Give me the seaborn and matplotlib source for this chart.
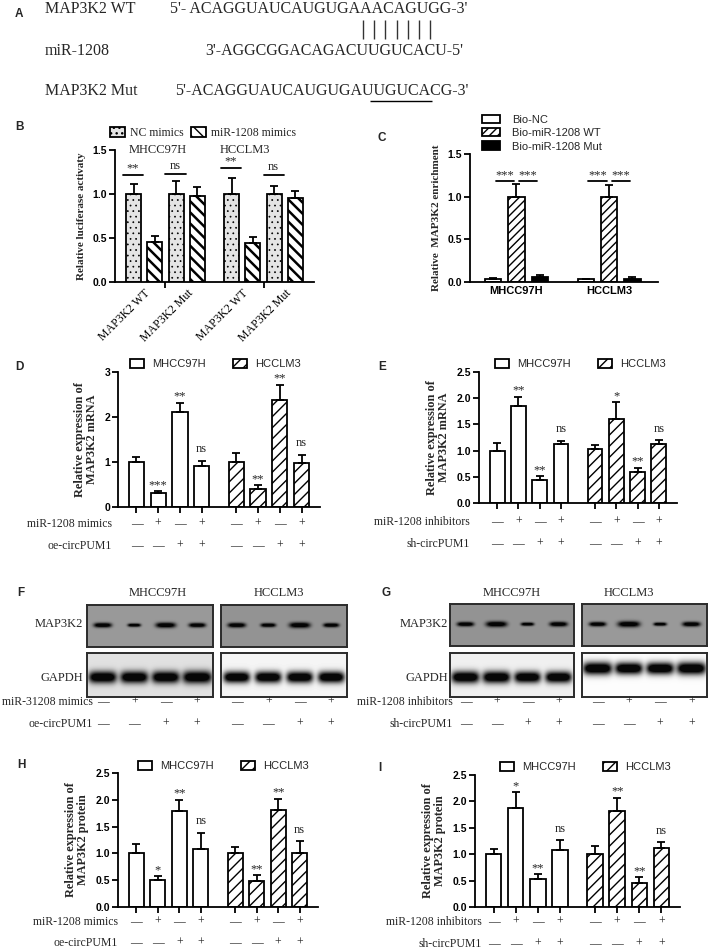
import numpy as np
import pandas as pd
import matplotlib.pyplot as plt
import seaborn as sns
from matplotlib.patches import Patch

sns.set_theme(style='ticks', rc={'axes.edgecolor': 'black', 'xtick.color': 'black',
                                 'ytick.color': 'black', 'hatch.linewidth': 1.0})
plt.rcParams['font.family'] = ['Liberation Sans', 'DejaVu Sans']
SERIF = ['Liberation Serif', 'DejaVu Serif']

# ---------------- data ----------------
# A: sequences
seq_names = ['MAP3K2 WT', 'miR-1208', 'MAP3K2 Mut']
seq_texts = ["5'- ACAGGUAUCAUGUGAAACAGUGG-3'", "3'-AGGCGGACAGACUUGUCACU-5'",
             "5'-ACAGGUAUCAUGUGAUUGUCACG-3'"]

# B: luciferase activity (pairs NC / miR-1208 mimics)
b_groups = ['MAP3K2 WT', 'MAP3K2 Mut', 'MAP3K2 WT', 'MAP3K2 Mut']
b_cells = ['MHCC97H', 'HCCLM3']
b_nc = [1.00, 1.00, 1.00, 1.00]
b_nc_err = [0.11, 0.15, 0.185, 0.09]
b_mir = [0.46, 0.98, 0.44, 0.95]
b_mir_err = [0.06, 0.10, 0.07, 0.08]
b_sig = ['**', 'ns', '**', 'ns']
b_sig_y = [1.22, 1.23, 1.30, 1.22]

# C: RNA pull-down
c_cells = ['MHCC97H', 'HCCLM3']
c_series = ['Bio-NC', 'Bio-miR-1208 WT', 'Bio-miR-1208 Mut']
c_nc = [0.04, 0.03]
c_nc_err = [0.008, 0.006]
c_wt = [1.00, 1.00]
c_wt_err = [0.15, 0.14]
c_mut = [0.06, 0.04]
c_mut_err = [0.025, 0.015]
c_sig_y = 1.18

# D, E, H, I: four conditions per cell line
cells = ['MHCC97H', 'HCCLM3']
d_mhcc = [1.00, 0.32, 2.12, 0.91]
d_mhcc_err = [0.11, 0.03, 0.20, 0.12]
d_hcc = [1.00, 0.41, 2.38, 0.97]
d_hcc_err = [0.19, 0.08, 0.34, 0.19]
d_sig = ['', '***', '**', 'ns', '', '**', '**', 'ns']

e_mhcc = [1.00, 1.85, 0.43, 1.13]
e_mhcc_err = [0.14, 0.18, 0.08, 0.06]
e_hcc = [1.03, 1.61, 0.60, 1.12]
e_hcc_err = [0.07, 0.31, 0.075, 0.08]
e_sig = ['', '**', '**', 'ns', '', '*', '**', 'ns']

h_mhcc = [1.01, 0.51, 1.79, 1.09]
h_mhcc_err = [0.17, 0.07, 0.21, 0.29]
h_hcc = [1.00, 0.49, 1.81, 1.00]
h_hcc_err = [0.12, 0.10, 0.21, 0.23]
h_sig = ['', '*', '**', 'ns', '', '**', '**', 'ns']

i_mhcc = [1.00, 1.87, 0.53, 1.08]
i_mhcc_err = [0.10, 0.30, 0.09, 0.18]
i_hcc = [1.00, 1.82, 0.45, 1.11]
i_hcc_err = [0.16, 0.25, 0.11, 0.12]
i_sig = ['', '*', '**', 'ns', '', '**', '**', 'ns']

row1_signs = ['—', '+', '—', '+']
row2_signs = ['—', '—', '+', '+']

# F, G: western blot band strengths (relative)
f_map_mhcc = [0.85, 0.62, 0.95, 0.80]
f_map_hcc = [0.85, 0.72, 1.00, 0.75]
f_gapdh_mhcc = [1.00, 1.00, 1.00, 1.05]
f_gapdh_hcc = [0.95, 0.95, 0.95, 0.95]
g_map_mhcc = [0.80, 1.00, 0.62, 0.85]
g_map_hcc = [0.80, 1.05, 0.62, 0.85]
g_gapdh_mhcc = [1.00, 1.00, 0.95, 0.95]
g_gapdh_hcc = [1.05, 1.00, 1.00, 1.05]

yt_15 = ['0.0', '0.5', '1.0', '1.5']
yt_25 = ['0.0', '0.5', '1.0', '1.5', '2.0', '2.5']
yt_3 = ['0', '1', '2', '3']

# ---------------- layout ----------------
W, H = 709, 950
fig = plt.figure(figsize=(7.09, 9.5), dpi=100)
over = fig.add_axes([0, 0, 1, 1])
over.set_xlim(0, W)
over.set_ylim(H, 0)
over.axis('off')
over.set_zorder(10)


def px_axes(box):
    l, t, r, b = box
    return fig.add_axes([l / W, 1 - b / H, (r - l) / W, (b - t) / H])


def row_frac(box, y):
    return (box[3] - y) / (box[3] - box[1])


pos8 = [0, 1, 2, 3, 4.6, 5.6, 6.6, 7.6]
BLACK = 'black'


def bars(ax, pos, vals, errs, fills, hatches):
    df = pd.DataFrame({'x': pos, 'y': vals})
    sns.barplot(data=df, x='x', y='y', native_scale=True, width=0.7, errorbar=None,
                color='white', saturation=1, edgecolor=BLACK, linewidth=1.3, ax=ax)
    for p, f, h in zip(ax.patches, fills, hatches):
        p.set_facecolor(f)
        p.set_hatch(h)
    ax.errorbar(pos, vals, yerr=[np.zeros(len(errs)), errs], fmt='none', ecolor=BLACK,
                elinewidth=1.3, capsize=3, capthick=1.3, zorder=3)
    ax.set_xlabel('')
    sns.despine(ax=ax)
    for s in ['left', 'bottom']:
        ax.spines[s].set_linewidth(1.3)
    ax.tick_params(direction='out', length=4, width=1.3, labelsize=7.5, pad=1.5)


def yaxis(ax, top, labels, ylabel, size=8):
    ticks = np.linspace(0, top, len(labels))
    ax.set_ylim(0, top)
    ax.set_yticks(ticks)
    ax.set_yticklabels(labels, fontweight='bold')
    ax.set_ylabel(ylabel, family=SERIF, fontweight='bold', fontsize=size, labelpad=5,
                  linespacing=1.0)


def sig_text(ax, x, top, s):
    if not s:
        return
    dy = 4 if s == 'ns' else 0
    ax.annotate(s, (x, top), xytext=(0, dy), textcoords='offset points', ha='center',
                va='bottom', family=SERIF, fontsize=9)


def legend2(ax, handles, anchor, pad, colsp, serif=False):
    prop = {'family': SERIF, 'size': 8.5} if serif else {'size': 8}
    ax.legend(handles=handles, loc='center left', bbox_to_anchor=anchor,
              bbox_transform=over.transData, ncol=len(handles), frameon=False,
              borderpad=0, borderaxespad=0, handlelength=1.25, handleheight=0.9,
              handletextpad=pad, columnspacing=colsp, prop=prop)


def cell_handles(h2='///'):
    return [Patch(facecolor='white', edgecolor=BLACK, linewidth=1.3, label=cells[0]),
            Patch(facecolor='white', edgecolor=BLACK, linewidth=1.3, hatch=h2,
                  label=cells[1])]


def four_panel(box, mh, mh_err, hc, hc_err, sig, top, labels, ylabel, leg_anchor,
               row_labels, row_label_x, row_ys):
    ax = px_axes(box)
    vals = mh + hc
    errs = mh_err + hc_err
    bars(ax, pos8, vals, errs, ['white'] * 8, [''] * 4 + ['///'] * 4)
    yaxis(ax, top, labels, ylabel, size=8.8)
    ax.set_xlim(-0.85, 8.45)
    ax.set_xticks(pos8)
    ax.set_xticklabels([])
    for x, v, e, s in zip(pos8, vals, errs, sig):
        sig_text(ax, x, v + e, s)
    legend2(ax, cell_handles(), leg_anchor, 0.7, 2.5)
    for lab, y, signs in zip(row_labels, row_ys, [row1_signs, row2_signs]):
        over.text(row_label_x, y, lab, ha='right', va='center', family=SERIF, fontsize=8.5)
        for x, s in zip(pos8, signs + signs):
            ax.text(x, row_frac(box, y), s, transform=ax.get_xaxis_transform(),
                    ha='center', va='center', family=SERIF, fontsize=8.5)
    return ax


def blot(box, lanes, bg, yc, half_w, half_h, p=4):
    ax = px_axes(box)
    l, t, r, b = box
    w, h = int(r - l), int(b - t)
    xs = np.arange(w) + 0.5
    ys = np.arange(h) + 0.5
    img = np.full((h, w), bg)
    for k, s in enumerate(lanes):
        cx = (k + 0.5) * w / 4
        prof = (np.exp(-np.abs((xs - cx) / (half_w * s)) ** p)[None, :] *
                np.exp(-((ys - yc * h) / (half_h * s)) ** 2)[:, None])
        img = img * (1 - 0.97 * np.clip(prof * 1.3, 0, 1))
    ax.imshow(img, cmap='gray', vmin=0, vmax=1, aspect='auto', interpolation='bilinear')
    ax.set_xticks([])
    ax.set_yticks([])
    for sp in ax.spines.values():
        sp.set_color('#2b2b2b')
        sp.set_linewidth(1.4)
    return ax


def lane_x(box, k):
    return box[0] + (k + 0.5) * (box[2] - box[0]) / 4


# ---------------- panel A ----------------
over.text(15, 14, 'A', fontsize=8.5, fontweight='bold', va='center')
for name, seq, nx, sx, y in zip(seq_names, seq_texts, [45, 45, 45], [170, 205, 175],
                                [13, 55, 95]):
    over.text(nx, y, name, family=SERIF, fontsize=11.5, va='baseline')
    over.text(sx, y, seq, family=SERIF, fontsize=11.5, va='baseline')
over.vlines(np.linspace(363, 430, 7), 20, 39, color='#333', lw=1)
over.hlines(101, 370, 432, color=BLACK, lw=1)

# ---------------- panel B ----------------
box_b = (115, 150, 314, 282)
ax = px_axes(box_b)
pos_nc = [pos8[0], pos8[2], pos8[4], pos8[6]]
pos_mir = [pos8[1], pos8[3], pos8[5], pos8[7]]
b_vals, b_errs, b_h, b_f = [], [], [], []
for a, ae, m, me in zip(b_nc, b_nc_err, b_mir, b_mir_err):
    b_vals += [a, m]
    b_errs += [ae, me]
    b_h += ['...', '\\\\\\']
    b_f += ['#e4e4e4', 'white']
bars(ax, pos8, b_vals, b_errs, b_f, b_h)
for p in ax.patches[1::2]:
    if hasattr(p, 'set_hatch_linewidth'):
        p.set_hatch_linewidth(1.8)
for p in ax.patches[0::2]:
    if hasattr(p, 'set_hatch_linewidth'):
        p.set_hatch_linewidth(0.5)
yaxis(ax, 1.5, yt_15, 'Relative luciferase activaty')
ax.set_xlim(-0.87, 8.47)
pair_c = [(a + b) / 2 for a, b in zip(pos_nc, pos_mir)]
ax.set_xticks(pair_c)
ax.set_xticklabels(b_groups, rotation=45, ha='right', rotation_mode='anchor',
                   family=SERIF, fontsize=8.5)
ax.tick_params(axis='x', length=0, pad=4)
ax.set_xticks([1.5, 6.1], minor=True)
ax.tick_params(axis='x', which='minor', length=4, width=1.3)
for p0, s, y in zip(pos_nc, b_sig, b_sig_y):
    ax.plot([p0 - 0.5, p0 + 0.45], [y, y], color=BLACK, lw=1.3, clip_on=False)
    ax.annotate(s, (p0 - 0.03, y), xytext=(0, 0 if s != 'ns' else 1),
                textcoords='offset points', ha='center', va='bottom', family=SERIF,
                fontsize=9)
hb = [Patch(facecolor='#e4e4e4', edgecolor=BLACK, hatch='...', lw=1.3, label='NC mimics'),
      Patch(facecolor='white', edgecolor=BLACK, hatch='\\\\\\', lw=1.3,
            label='miR-1208 mimics')]
legend2(ax, hb, (110, 133), 0.45, 0.6, serif=True)
over.text(15, 127, 'B', fontsize=8.5, fontweight='bold', va='center')
over.text(158, 150, b_cells[0], family=SERIF, fontsize=9, ha='center', va='center')
over.text(245, 150, b_cells[1], family=SERIF, fontsize=9, ha='center', va='center')

# ---------------- panel C ----------------
box_c = (470, 154, 658, 282)
ax = px_axes(box_c)
pos_c = [0, 1, 2, 4, 5, 6]
c_vals, c_errs = [], []
for k in range(2):
    c_vals += [c_nc[k], c_wt[k], c_mut[k]]
    c_errs += [c_nc_err[k], c_wt_err[k], c_mut_err[k]]
bars(ax, pos_c, c_vals, c_errs, ['white', 'white', BLACK] * 2, ['', '////', ''] * 2)
yaxis(ax, 1.5, yt_15, 'Relative  MAP3K2 enrichment')
ax.set_xlim(-1.0, 7.1)
ax.set_xticks([1, 5])
ax.set_xticklabels(c_cells, fontweight='bold', fontsize=8)
ax.tick_params(axis='x', length=0, pad=3)
for g in [1, 5]:
    for x0, x1 in [(g - 0.9, g - 0.1), (g + 0.1, g + 0.9)]:
        ax.plot([x0, x1], [c_sig_y, c_sig_y], color=BLACK, lw=1.3)
        ax.annotate('***', ((x0 + x1) / 2, c_sig_y), xytext=(0, 0),
                    textcoords='offset points', ha='center', va='bottom', family=SERIF,
                    fontsize=9)
hc = [Patch(facecolor=f, edgecolor=BLACK, hatch=h, lw=1.3, label=l)
      for f, h, l in zip(['white', 'white', BLACK], ['', '////', ''], c_series)]
ax.legend(handles=hc, loc='center left', bbox_to_anchor=(482, 133),
          bbox_transform=over.transData, frameon=False, borderpad=0, borderaxespad=0,
          handlelength=1.6, handleheight=0.8, handletextpad=1.1, labelspacing=0.3,
          prop={'size': 8})
over.text(378, 138, 'C', fontsize=8.5, fontweight='bold', va='center')

# ---------------- panels D, E ----------------
over.text(15, 367, 'D', fontsize=8.5, fontweight='bold', va='center')
four_panel((118, 372, 320, 507), d_mhcc, d_mhcc_err, d_hcc, d_hcc_err, d_sig, 3, yt_3,
           'Relative expression of\nMAP3K2 mRNA', (130, 364),
           ['miR-1208 mimics', 'oe-circPUM1'], 112, [524, 546])
over.text(378, 367, 'E', fontsize=8.5, fontweight='bold', va='center')
four_panel((479, 372, 677, 503), e_mhcc, e_mhcc_err, e_hcc, e_hcc_err, e_sig, 2.5, yt_25,
           'Relative expression of\nMAP3K2 mRNA', (495, 364),
           ['miR-1208 inhibitors', 'sh-circPUM1'], 470, [522, 544])

# ---------------- panels F, G (western blots) ----------------
for letter, lx, boxes, lanes, bgs, ycs, lab_x, cell_x, rows, row_lx in [
        ('F', 17,
         [(87, 605, 213, 647), (221, 605, 347, 647), (87, 653, 213, 697), (221, 653, 347, 697)],
         [f_map_mhcc, f_map_hcc, f_gapdh_mhcc, f_gapdh_hcc],
         [0.60, 0.58, 0.88, 0.96], [0.48, 0.48, 0.55, 0.55], 83, [158, 279],
         ['miR-31208 mimics', 'oe-circPUM1'], 93),
        ('G', 382,
         [(450, 604, 574, 646), (582, 604, 707, 646), (450, 653, 574, 697), (582, 653, 707, 697)],
         [g_map_mhcc, g_map_hcc, g_gapdh_mhcc, g_gapdh_hcc],
         [0.58, 0.60, 0.94, 0.99], [0.48, 0.48, 0.55, 0.35], 448, [512, 629],
         ['miR-1208 inhibitors', 'sh-circPUM1'], 453)]:
    over.text(lx, 593, letter, fontsize=8.5, fontweight='bold', va='center')
    for k, (bx, ln, bg, yc) in enumerate(zip(boxes, lanes, bgs, ycs)):
        if k < 2:
            blot(bx, ln, bg, yc, 10.5, 2.8)
        else:
            blot(bx, ln, bg, yc, 14.0, 6.0, p=5)
    over.text(lab_x, 624, 'MAP3K2', family=SERIF, fontsize=9, ha='right', va='center')
    over.text(lab_x, 678, 'GAPDH', family=SERIF, fontsize=9, ha='right', va='center')
    for cx, name in zip(cell_x, cells):
        over.text(cx, 593, name, family=SERIF, fontsize=9, ha='center', va='center')
    for lab, y, signs in zip(rows, [702, 724], [row1_signs, row2_signs]):
        over.text(row_lx, y, lab, family=SERIF, fontsize=8.5, ha='right', va='center')
        for bx in boxes[:2]:
            for k, s in enumerate(signs):
                over.text(lane_x(bx, k), y, s, family=SERIF, fontsize=8.5, ha='center',
                          va='center')

# ---------------- panels H, I ----------------
over.text(17, 765, 'H', fontsize=8.5, fontweight='bold', va='center')
four_panel((118, 773, 318, 907), h_mhcc, h_mhcc_err, h_hcc, h_hcc_err, h_sig, 2.5, yt_25,
           'Relative expression of\nMAP3K2 protein', (138, 766),
           ['miR-1208 mimics', 'oe-circPUM1'], 118, [922, 943])
over.text(378, 768, 'I', fontsize=8.5, fontweight='bold', va='center')
four_panel((475, 775, 680, 907), i_mhcc, i_mhcc_err, i_hcc, i_hcc_err, i_sig, 2.5, yt_25,
           'Relative expression of\nMAP3K2 protein', (500, 767),
           ['miR-1208 inhibitors', 'sh-circPUM1'], 482, [922, 944])

fig.savefig('out.png', dpi=100, facecolor='white')
